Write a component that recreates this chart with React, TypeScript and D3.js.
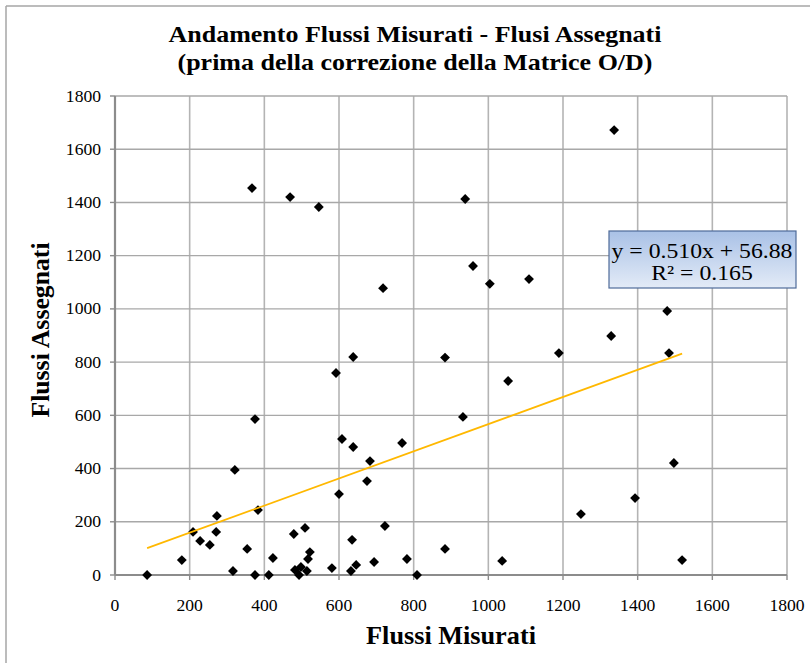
import React from "react";
import * as d3 from "d3";

const misurati: number[] = [
  367, 469, 546, 1337, 938, 959, 1004, 1109, 718, 1329, 1479, 1189, 638, 884, 592, 1484,
  1053, 932, 375, 608, 638, 769, 683, 1497, 321, 600, 675, 1393, 383, 273, 723, 1248,
  209, 271, 228, 254, 479, 509, 635, 354, 884, 522, 517, 423, 179, 694, 782, 1037, 1519,
  316, 482, 498, 514, 581, 632, 646, 86, 375, 412, 493, 809,
];
const assegnati: number[] = [
  1454, 1420, 1383, 1672, 1413, 1161, 1094, 1112, 1078, 898, 992, 834, 819, 817, 759, 834,
  729, 594, 586, 511, 481, 496, 428, 421, 395, 304, 353, 289, 244, 222, 184, 229,
  162, 162, 128, 113, 154, 177, 132, 98, 98, 86, 60, 64, 56, 49, 60, 53, 56,
  15, 19, 30, 15, 26, 15, 38, 0, 0, 0, 0, 0,
];
const xTicks: number[] = [0, 200, 400, 600, 800, 1000, 1200, 1400, 1600, 1800];
const yTicks: number[] = [0, 200, 400, 600, 800, 1000, 1200, 1400, 1600, 1800];
const slope = 0.51;
const intercept = 56.88;
const titleLines: string[] = [
  "Andamento Flussi Misurati - Flusi Assegnati",
  "(prima della correzione della Matrice O/D)",
];
const equationLines: string[] = ["y = 0.510x + 56.88", "R² = 0.165"];

export default function App() {
  const W = 810;
  const H = 663;
  const L = 115, R = 787, T = 96, B = 575;
  const x = d3.scaleLinear().domain([0, 1800]).range([L, R]);
  const y = d3.scaleLinear().domain([0, 1800]).range([B, T]);
  const pts = misurati.map((v, i) => [v, assegnati[i]] as [number, number]);
  const xMin = d3.min(misurati) as number;
  const xMax = d3.max(misurati) as number;
  const line = d3.line<number>().x((d) => x(d)).y((d) => y(slope * d + intercept));
  const diamond = d3.symbol().type(d3.symbolDiamond2).size(62)() as string;
  const serif = "'Liberation Serif', 'Times New Roman', serif";

  return (
    <svg width={W} height={H} style={{ position: "absolute", left: 0, top: 0, background: "#fff" }}
      fontFamily={serif}>
      <rect x={0} y={0} width={W} height={H} fill="#fff" />
      <line x1={6} y1={6} x2={W} y2={6} stroke="#a6a6a6" strokeWidth={1.5} />
      <line x1={6} y1={6} x2={6} y2={H} stroke="#a6a6a6" strokeWidth={1.5} />
      {titleLines.map((t, i) => (
        <text key={t} transform={`translate(415,${42 + i * 28}) scale(1.13,1)`} textAnchor="middle"
          fontSize={23} fontWeight="bold" fill="#000">{t}</text>
      ))}
      {xTicks.slice(1).map((t) => (
        <line key={"gx" + t} x1={x(t)} x2={x(t)} y1={T} y2={B} stroke="#b4b4b4" strokeWidth={1.6} />
      ))}
      {yTicks.slice(1).map((t) => (
        <line key={"gy" + t} x1={L} x2={R} y1={y(t)} y2={y(t)} stroke="#a8a8a8" strokeWidth={1.4} />
      ))}
      <line x1={L} x2={L} y1={T} y2={B} stroke="#8c8c8c" strokeWidth={2.2} />
      <line x1={L} x2={R} y1={B} y2={B} stroke="#8c8c8c" strokeWidth={2.2} />
      {yTicks.map((t) => (
        <g key={"ty" + t}>
          <line x1={L - 5} x2={L} y1={y(t)} y2={y(t)} stroke="#8c8c8c" strokeWidth={1.4} />
          <text transform={`translate(${L - 14},${y(t) + 5.5}) scale(1.1,1)`} textAnchor="end"
            fontSize={16} fill="#000">{t}</text>
        </g>
      ))}
      {xTicks.map((t) => (
        <g key={"tx" + t}>
          <line x1={x(t)} x2={x(t)} y1={B} y2={B + 5} stroke="#8c8c8c" strokeWidth={1.4} />
          <text transform={`translate(${x(t)},${B + 36}) scale(1.1,1)`} textAnchor="middle"
            fontSize={16} fill="#000">{t}</text>
        </g>
      ))}
      <text transform="translate(451,644) scale(1.05,1)" textAnchor="middle" fontSize={25}
        fontWeight="bold">Flussi Misurati</text>
      <text transform={`translate(49,330) rotate(-90) scale(1.03,1)`} textAnchor="middle" fontSize={25}
        fontWeight="bold">Flussi Assegnati</text>
      {pts.map(([a, b], i) => (
        <path key={"p" + i} d={diamond} transform={`translate(${x(a)},${y(b)})`} fill="#000" />
      ))}
      <path d={line([xMin, xMax]) as string} stroke="#FFB800" strokeWidth={1.8} fill="none" />
      <defs>
        <linearGradient id="eqg" x1="0" y1="0" x2="0" y2="1">
          <stop offset="0" stopColor="#a9c1e6" />
          <stop offset="1" stopColor="#e3ebf7" />
        </linearGradient>
      </defs>
      <rect x={609} y={231} width={187} height={57} fill="url(#eqg)" stroke="#4f6b99" strokeWidth={1.2} />
      {equationLines.map((t, i) => (
        <text key={t} transform={`translate(702,${258 + i * 22}) scale(1.13,1)`} textAnchor="middle"
          fontSize={21} fill="#000">{t}</text>
      ))}
    </svg>
  );
}
